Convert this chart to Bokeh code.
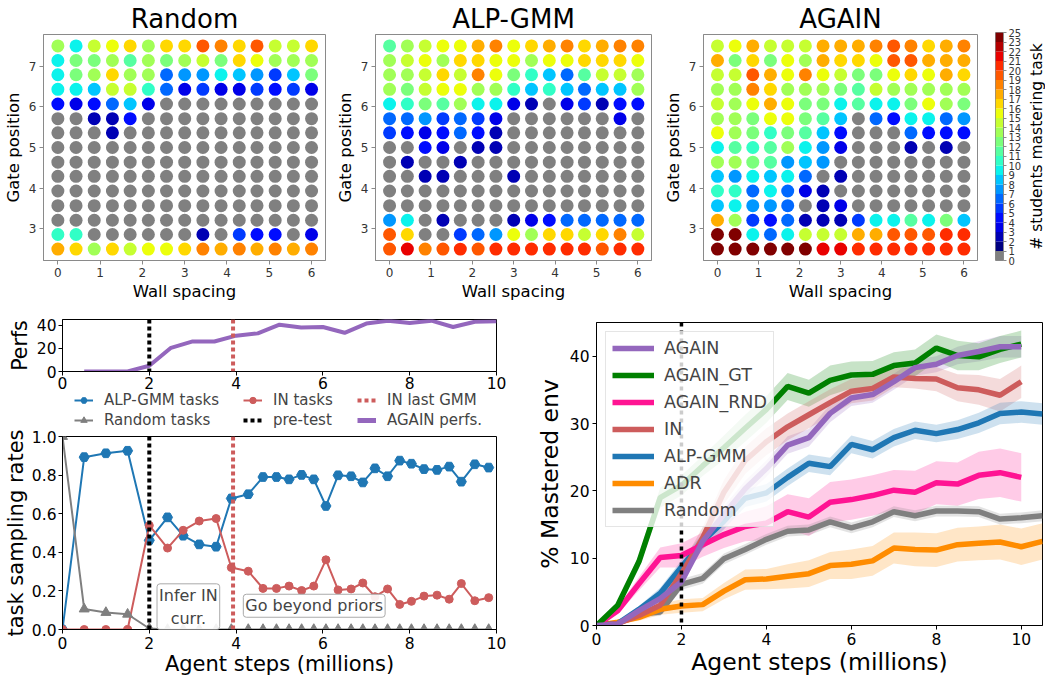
import numpy as np
from bokeh.plotting import figure
from bokeh.models import (FixedTicker, Legend, LegendItem, Span, Label,
                          NumeralTickFormatter, Range1d)
from bokeh.layouts import row, column
from bokeh.embed import file_html
from bokeh.resources import INLINE

FONT = "DejaVu Sans"
NAN = float("nan")

# ---------------- heatmap data (rows: top gate=7.5 -> bottom gate=2.5) ----------------
WALL = [0.0, 0.43, 0.86, 1.29, 1.71, 2.14, 2.57, 3.0, 3.43, 3.86, 4.29, 4.71, 5.14, 5.57, 6.0]
GATE = [7.5, 7.14, 6.79, 6.43, 6.07, 5.71, 5.36, 5.0, 4.64, 4.29, 3.93, 3.57, 3.21, 2.86, 2.5]

RANDOM_GRID = [
    [13, 9, 14, 15, 16, 13, 16, 16, 19, 18, 16, 19, 14, 14, 16],
    [9, 12, 12, 13, 11, 13, 12, 13, 14, 12, 16, 15, 13, 13, 13],
    [9, 12, 13, 16, 13, 13, 6, 7, 7, 9, 8, 7, 5, 8, 12],
    [9, 9, 8, 14, 14, 10, 6, 3, 5, 3, 3, 5, 4, 5, 3],
    [4, 3, 4, 6, 8, 3, 0, 0, 0, 0, 0, 0, 0, 0, 0],
    [0, 0, 2, 2, 4, 0, 0, 0, 0, 0, 0, 0, 0, 0, 0],
    [0, 0, 0, 2, 0, 0, 0, 0, 0, 0, 0, 0, 0, 0, 0],
    [0, 0, 0, 0, 0, 0, 0, 0, 0, 0, 0, 0, 0, 0, 0],
    [0, 0, 0, 0, 0, 0, 0, 0, 0, 0, 0, 0, 0, 0, 0],
    [0, 0, 0, 0, 0, 0, 0, 0, 0, 0, 0, 0, 0, 0, 0],
    [0, 0, 0, 0, 0, 0, 0, 0, 0, 0, 0, 0, 0, 0, 0],
    [0, 0, 0, 0, 0, 0, 0, 0, 0, 0, 0, 0, 0, 0, 0],
    [0, 0, 0, 0, 0, 0, 0, 0, 0, 0, 0, 0, 0, 0, 0],
    [10, 10, 0, 0, 0, 0, 0, 0, 2, 0, 5, 4, 4, 0, 3],
    [17, 16, 13, 16, 14, 15, 15, 16, 18, 17, 18, 17, 18, 17, 18],
]

ALPGMM_GRID = [
    [11, 13, 14, 15, 15, 17, 18, 15, 16, 17, 18, 16, 17, 18, 18],
    [13, 14, 15, 13, 16, 16, 15, 15, 13, 15, 15, 16, 16, 16, 15],
    [13, 13, 14, 16, 14, 18, 15, 12, 10, 8, 6, 11, 14, 14, 13],
    [13, 12, 14, 15, 15, 13, 13, 10, 8, 10, 8, 6, 8, 8, 13],
    [9, 10, 12, 11, 13, 9, 9, 3, 2, 0, 3, 5, 2, 4, 4],
    [6, 6, 7, 5, 6, 5, 3, 0, 0, 0, 0, 0, 0, 3, 0],
    [5, 4, 3, 4, 6, 4, 2, 0, 0, 0, 0, 0, 0, 0, 0],
    [0, 0, 4, 3, 0, 2, 2, 0, 0, 0, 0, 0, 0, 0, 0],
    [0, 2, 0, 0, 2, 0, 0, 0, 0, 0, 0, 0, 0, 0, 0],
    [0, 0, 2, 2, 0, 0, 0, 2, 0, 0, 0, 0, 0, 0, 0],
    [0, 0, 0, 0, 0, 0, 0, 0, 0, 0, 0, 0, 0, 0, 0],
    [0, 0, 0, 0, 0, 0, 0, 0, 0, 0, 0, 0, 0, 0, 0],
    [7, 9, 0, 2, 0, 0, 0, 2, 3, 4, 6, 6, 6, 6, 6],
    [19, 16, 0, 0, 5, 6, 7, 15, 13, 16, 16, 14, 16, 18, 14],
    [19, 21, 18, 19, 20, 19, 20, 20, 20, 20, 20, 20, 19, 20, 20],
]

AGAIN_GRID = [
    [14, 15, 17, 14, 14, 14, 17, 17, 17, 18, 19, 18, 16, 17, 18],
    [17, 12, 16, 12, 15, 13, 17, 16, 16, 15, 19, 19, 17, 17, 17],
    [14, 14, 19, 17, 15, 18, 15, 14, 12, 12, 15, 16, 15, 17, 16],
    [13, 13, 18, 16, 13, 13, 13, 12, 11, 14, 13, 13, 13, 13, 13],
    [14, 13, 15, 17, 15, 12, 12, 9, 11, 9, 9, 12, 15, 13, 12],
    [13, 13, 12, 15, 15, 12, 11, 8, 0, 6, 4, 9, 9, 6, 7],
    [15, 13, 12, 10, 12, 11, 8, 4, 0, 0, 0, 6, 4, 4, 4],
    [9, 11, 10, 11, 13, 9, 7, 3, 0, 0, 0, 2, 0, 2, 0],
    [13, 13, 12, 11, 7, 8, 7, 0, 0, 0, 0, 0, 0, 0, 0],
    [8, 7, 9, 8, 9, 6, 0, 2, 0, 0, 0, 0, 0, 0, 0],
    [10, 10, 6, 9, 6, 3, 2, 0, 0, 0, 0, 0, 0, 0, 0],
    [8, 9, 7, 7, 6, 0, 2, 3, 0, 0, 0, 0, 0, 0, 0],
    [17, 13, 5, 4, 6, 2, 2, 2, 5, 9, 9, 11, 9, 12, 8],
    [25, 25, 9, 6, 9, 14, 14, 14, 17, 17, 19, 19, 19, 20, 20],
    [25, 25, 25, 25, 25, 25, 21, 21, 20, 20, 20, 20, 20, 20, 20],
]

CB_LABELS = [0, 1, 2, 3, 4, 5, 6, 7, 8, 9, 10, 11, 12, 13, 14, 15, 16, 17, 18, 19, 20, 21, 22, 23, 25]

# ---------------- bottom-left data ----------------
PERF_STEPS = [0.5, 1.0, 1.5, 2.0, 2.5, 3.0, 3.5, 4.0, 4.5, 5.0, 5.5, 6.0, 6.5, 7.0, 7.5, 8.0, 8.5, 9.0, 9.5, 10.0]
AGAIN_PERF = [0, 0, 0, 5, 20.5, 26, 26, 31, 33, 40.5, 38, 38.5, 33.5, 41.5, 44, 42, 44, 38.5, 43, 43.5]

TASK_STEPS = [0.0, 0.5, 1.0, 1.5, 2.0, 2.42, 2.78, 3.15, 3.54, 3.89, 4.28, 4.62, 4.93, 5.22, 5.51,
              5.79, 6.07, 6.35, 6.65, 6.92, 7.2, 7.49, 7.77, 8.04, 8.33, 8.63, 8.91, 9.19, 9.5, 9.82]
ALP_TASKS = [0.0, 0.893, 0.913, 0.926, 0.462, 0.581, 0.486, 0.441, 0.429, 0.679, 0.701, 0.790, 0.790,
             0.778, 0.801, 0.778, 0.640, 0.799, 0.794, 0.762, 0.835, 0.794, 0.875, 0.859, 0.831,
             0.827, 0.844, 0.766, 0.856, 0.839]
IN_TASKS = [0.0, 0.0, 0.0, 0.0, 0.539, 0.422, 0.514, 0.562, 0.575, 0.321, 0.302, 0.213, 0.213, 0.225,
            0.202, 0.225, 0.361, 0.205, 0.210, 0.241, 0.170, 0.210, 0.130, 0.146, 0.173, 0.178,
            0.157, 0.238, 0.149, 0.165]
RANDOM_TASKS = [1.0, 0.106, 0.088, 0.079, 0.005, 0, 0, 0, 0, 0, 0, 0, 0, 0, 0,
                0, 0, 0, 0, 0, 0, 0, 0, 0, 0, 0, 0, 0, 0, 0]
PRETEST_X = 2.0
IN_LAST_GMM_X = 3.93

# ---------------- bottom-right data ----------------
STEPS = [0.0, 0.5, 1.0, 1.5, 2.0, 2.5, 3.0, 3.5, 4.0, 4.5, 5.0, 5.5, 6.0, 6.5, 7.0, 7.5, 8.0, 8.5, 9.0, 9.5, 10.0]
STEPS_EXT = STEPS + [10.5]

AGAIN_M = [0, 0.2, 2.2, 4.0, 6.5, 12.5, 16.5, 20.3, 23.3, 26.8, 27.9, 31.5, 33.8, 34.3, 36.2, 38.3, 38.8, 40.1, 40.7, 41.4, 41.4]
AGAIN_S = [0, 0.2, 0.4, 0.6, 0.8, 1.0, 1.2, 1.2, 1.2, 1.3, 1.3, 1.3, 1.2, 1.2, 1.2, 1.2, 1.2, 1.3, 1.5, 1.6, 1.6]
GT_M = [0, 3.0, 9.5, 19.0, 20.8, 23.7, 26.4, 29.3, 32.1, 35.5, 34.5, 36.4, 37.2, 37.3, 38.6, 39.0, 41.2, 40.1, 39.9, 41.0, 41.8]
GT_S = [0, 0.5, 1.0, 1.5, 1.5, 1.5, 1.8, 2.0, 2.0, 2.0, 2.0, 2.2, 2.0, 2.0, 2.0, 2.0, 2.0, 2.2, 2.0, 2.0, 2.0]
RND_M = [0, 2.2, 6.2, 10.1, 10.4, 12.0, 13.5, 14.7, 15.2, 16.9, 16.1, 18.3, 18.7, 19.3, 20.1, 19.8, 21.2, 21.0, 22.3, 22.7, 22.0]
RND_S = [0, 0.5, 1.0, 1.5, 1.8, 1.8, 2.0, 2.2, 2.5, 2.6, 2.8, 3.0, 3.0, 3.0, 3.0, 3.2, 3.2, 3.2, 3.5, 3.6, 3.6]
IN_M = [0, 0.3, 1.5, 3.0, 7.7, 13.0, 19.8, 24.5, 27.3, 29.5, 31.3, 33.1, 34.8, 35.2, 36.9, 36.7, 36.6, 35.3, 35.0, 34.2, 36.2]
IN_S = [0, 0.3, 0.6, 1.0, 1.3, 1.6, 1.8, 2.0, 2.0, 2.0, 2.0, 2.0, 1.8, 1.8, 1.5, 1.5, 1.8, 2.0, 2.2, 2.4, 2.4]
ALP_M = [0, 0.3, 2.4, 4.8, 8.7, 12.5, 15.5, 18.9, 19.7, 22.0, 24.1, 23.6, 26.9, 26.1, 27.9, 29.0, 28.5, 29.1, 30.1, 31.5, 31.7, 31.4]
ALP_S = [0, 0.3, 0.5, 0.8, 1.0, 1.2, 1.2, 1.3, 1.3, 1.3, 1.3, 1.3, 1.3, 1.3, 1.3, 1.3, 1.3, 1.4, 1.5, 1.6, 1.6, 1.6]
ADR_M = [0, 0.5, 1.2, 2.4, 2.9, 3.1, 5.1, 6.8, 6.9, 7.3, 7.7, 8.9, 9.1, 9.6, 11.5, 11.3, 11.2, 12.0, 12.2, 12.4, 11.7, 12.5]
ADR_S = [0, 0.3, 0.5, 0.8, 1.0, 1.0, 1.2, 1.5, 1.5, 1.8, 2.0, 2.0, 2.2, 2.2, 2.3, 2.5, 2.5, 2.5, 2.5, 2.6, 2.7, 2.7]
RANDOM_M = [0, 0.3, 1.7, 2.0, 6.1, 7.0, 9.9, 11.3, 12.8, 14.0, 14.2, 15.4, 14.5, 15.4, 16.9, 16.3, 17.0, 17.0, 16.9, 15.8, 16.0, 16.3]
RANDOM_S = [0, 0.2, 0.4, 0.6, 0.8, 0.8, 0.8, 0.8, 0.8, 0.8, 0.8, 0.8, 0.8, 0.8, 0.8, 0.8, 0.8, 0.8, 0.8, 0.8, 0.8, 0.8]

PURPLE = "#9467bd"
GREEN = "#008000"
PINK = "#ff1493"
INRED = "#cd5c5c"
BLUE = "#1f77b4"
ORANGE = "#ff8c00"
GRAY = "#808080"
TGRAY = "#7f7f7f"


# ---------------- colormap ----------------
def jet(t):
    r = np.interp(t, [0, 0.35, 0.66, 0.89, 1], [0, 0, 1, 1, 0.5])
    g = np.interp(t, [0, 0.125, 0.375, 0.64, 0.91, 1], [0, 0, 1, 1, 0, 0])
    b = np.interp(t, [0, 0.11, 0.34, 0.65, 1], [0.5, 1, 1, 0, 0])
    return "#%02x%02x%02x" % (int(round(r * 255)), int(round(g * 255)), int(round(b * 255)))


BAND_COLORS = ["#808080"] + [jet(k / 22.0) for k in range(23)]


def value_color(v):
    return BAND_COLORS[0 if v == 0 else min(v, 23)]


# ---------------- layout helpers ----------------
SX = 1045 / 1061
SY = 678 / 694


def sx(v):
    return int(round(v * SX))


def sy(v):
    return int(round(v * SY))


def base_fig(width, height, left, right, top, bottom, **kw):
    p = figure(width=width, height=height, min_border_left=left, min_border_right=right,
               min_border_top=top, min_border_bottom=bottom,
               output_backend="svg", toolbar_location=None, **kw)
    p.frame_align = False
    p.grid.visible = False
    p.background_fill_color = "white"
    p.border_fill_color = "white"
    return p


def make_fig(box, frame, **kw):
    x0, x1, y0, y1 = box
    fx0, fx1, fy0, fy1 = frame
    return base_fig(sx(x1) - sx(x0), sy(y1) - sy(y0), sx(fx0) - sx(x0), sx(x1) - sx(fx1),
                    sy(fy0) - sy(y0), sy(y1) - sy(fy1), **kw)


def style(p, tick_px, label_px, line_color="black", text_color="black"):
    for ax in p.axis:
        ax.major_label_text_font = FONT
        ax.major_label_text_font_size = "%.1fpx" % tick_px
        ax.major_label_text_color = text_color
        ax.axis_label_text_font = FONT
        ax.axis_label_text_font_size = "%.1fpx" % label_px
        ax.axis_label_text_font_style = "normal"
        ax.axis_label_text_color = "black"
        ax.minor_tick_line_color = None
        ax.major_tick_out = 4
        ax.major_tick_in = 0
        ax.major_label_standoff = 3
        ax.axis_label_standoff = 3
        ax.axis_line_color = line_color
        ax.major_tick_line_color = line_color
    p.outline_line_color = line_color
    p.outline_line_alpha = 1.0


def heatmap(box, frame, title, grid):
    p = make_fig(box, frame, x_range=Range1d(-0.34, 6.33), y_range=Range1d(2.22, 7.78), title=title)
    xs, ys, cs = [], [], []
    for r, vals in enumerate(grid):
        for c, v in enumerate(vals):
            xs.append(WALL[c])
            ys.append(GATE[r])
            cs.append(value_color(v))
    p.scatter(x=xs, y=ys, size=13, fill_color=cs, line_color=None)
    p.xaxis.ticker = FixedTicker(ticks=[0, 1, 2, 3, 4, 5, 6])
    p.yaxis.ticker = FixedTicker(ticks=[3, 4, 5, 6, 7])
    p.xaxis.axis_label = "Wall spacing"
    p.yaxis.axis_label = "Gate position"
    style(p, 12, 16.5, line_color="#8a8a8a", text_color="#333333")
    p.xaxis.axis_label_standoff = 2
    p.title.text_font = FONT
    p.title.text_font_size = "26px"
    p.title.text_font_style = "normal"
    p.title.text_color = "black"
    p.title.align = "center"
    p.title.standoff = 2
    return p


h1 = heatmap((0, 337, 0, 318), (43, 330, 33, 266), "Random", RANDOM_GRID)
h2 = heatmap((337, 670, 0, 318), (375, 661, 33, 266), "ALP-GMM", ALPGMM_GRID)
h3 = heatmap((670, 998, 0, 318), (706, 992, 33, 266), "AGAIN", AGAIN_GRID)

# colorbar as its own small figure
cb = make_fig((998, 1040, 0, 318), (1010, 1023, 33, 266), x_range=Range1d(0, 1),
              y_range=Range1d(0, len(BAND_COLORS)), y_axis_location="right", x_axis_location=None)
band_idx = list(range(len(BAND_COLORS)))
cb.quad(left=0, right=1, bottom=band_idx, top=[i + 1 for i in band_idx], fill_color=BAND_COLORS, line_color=None)
cb.yaxis.ticker = FixedTicker(ticks=list(range(len(CB_LABELS))))
cb.yaxis.major_label_overrides = {i: str(b) for i, b in enumerate(CB_LABELS)}
style(cb, 10, 15.5, line_color="#8a8a8a", text_color="#333333")
cb.yaxis.major_tick_out = 3
cb.yaxis.major_label_standoff = 2

# colorbar title: left axis label of a 1-px-wide figure (reads bottom-to-top)
cbl = make_fig((1040, 1061, 0, 318), (1060, 1061, 33, 266), x_range=Range1d(0, 1),
               y_range=Range1d(0, 1), x_axis_location=None)
cbl.yaxis.ticker = FixedTicker(ticks=[])
cbl.yaxis.axis_label = "# students mastering task"
cbl.yaxis.axis_line_color = None
cbl.yaxis.axis_label_text_font = FONT
cbl.yaxis.axis_label_text_font_size = "15.5px"
cbl.yaxis.axis_label_text_font_style = "normal"
cbl.yaxis.axis_label_text_color = "black"
cbl.yaxis.axis_label_standoff = 0
cbl.yaxis.major_label_standoff = 0
cbl.yaxis.major_tick_out = 0
cbl.outline_line_color = None

# ---------------- bottom-left column: explicit pixel heights ----------------
TOP_H = sy(318)
BOT_H = 678 - TOP_H
LEFT_W = sx(540)
PF_H = 80
LG_H = 38
MP_H = BOT_H - PF_H - LG_H
FR_L = sx(61) + 2
FR_R = LEFT_W - sx(504)

# perfs
pf = base_fig(LEFT_W, PF_H, FR_L, FR_R, sy(327) - TOP_H, 20,
              x_range=Range1d(0, 10), y_range=Range1d(0, 45))
pf.line(PERF_STEPS, AGAIN_PERF, line_color=PURPLE, line_width=4)
pf.add_layout(Span(location=PRETEST_X, dimension="height", line_color="black", line_width=4, line_dash="4 3"))
pf.add_layout(Span(location=IN_LAST_GMM_X, dimension="height", line_color=INRED, line_width=4, line_dash="4 3"))
pf.xaxis.ticker = FixedTicker(ticks=[0, 2, 4, 6, 8, 10])
pf.yaxis.ticker = FixedTicker(ticks=[0, 20, 40])
pf.yaxis.axis_label = "Perfs"
style(pf, 15.5, 20.5)
pf.yaxis.axis_label_standoff = 2
pf.yaxis.major_label_standoff = 2
pf.xaxis.major_label_standoff = 1

# legend strip
lgf = base_fig(LEFT_W, LG_H, 0, 0, 0, 0, x_range=Range1d(0, 1), y_range=Range1d(0, 1),
               x_axis_location=None, y_axis_location=None)
lgf.outline_line_color = None
d_alp_l = lgf.line([NAN], [NAN], line_color=BLUE, line_width=2)
d_alp_s = lgf.scatter([NAN], [NAN], marker="hex", size=10, fill_color=BLUE, line_color=BLUE)
d_rnd_l = lgf.line([NAN], [NAN], line_color=TGRAY, line_width=2)
d_rnd_s = lgf.scatter([NAN], [NAN], marker="triangle", size=10, fill_color=TGRAY, line_color=TGRAY)
d_in_l = lgf.line([NAN], [NAN], line_color=INRED, line_width=2)
d_in_s = lgf.scatter([NAN], [NAN], marker="circle", size=8, fill_color=INRED, line_color=INRED)
d_pre = lgf.line([NAN], [NAN], line_color="black", line_width=4, line_dash="4 3")
d_gmm = lgf.line([NAN], [NAN], line_color=INRED, line_width=4, line_dash="4 3")
d_perf = lgf.line([NAN], [NAN], line_color=PURPLE, line_width=5)

for xoff, items in [(75, [("ALP-GMM tasks", [d_alp_l, d_alp_s]), ("Random tasks", [d_rnd_l, d_rnd_s])]),
                    (247, [("IN tasks", [d_in_l, d_in_s]), ("pre-test", [d_pre])]),
                    (362, [("IN last GMM", [d_gmm]), ("AGAIN perfs.", [d_perf])])]:
    lg = Legend(items=[LegendItem(label=t, renderers=r) for t, r in items],
                location=(sx(xoff), 0), orientation="vertical")
    lg.border_line_color = None
    lg.background_fill_alpha = 0
    lg.padding = 0
    lg.margin = 0
    lg.spacing = 2
    lg.glyph_width = 19
    lg.glyph_height = 16
    lg.label_height = 16
    lg.label_standoff = 11
    lg.label_text_font = FONT
    lg.label_text_font_size = "15px"
    lg.label_text_baseline = "middle"
    lgf.add_layout(lg)

# task sampling
mp = base_fig(LEFT_W, MP_H, FR_L, FR_R, 7, 678 - sy(651),
              x_range=Range1d(0, 10), y_range=Range1d(0, 1))
mp.add_layout(Span(location=PRETEST_X, dimension="height", line_color="black", line_width=4, line_dash="4 3"))
mp.add_layout(Span(location=IN_LAST_GMM_X, dimension="height", line_color=INRED, line_width=4, line_dash="4 3"))
mp.line(TASK_STEPS, ALP_TASKS, line_color=BLUE, line_width=2)
mp.scatter(TASK_STEPS, ALP_TASKS, marker="hex", size=10, fill_color=BLUE, line_color=BLUE)
mp.line(TASK_STEPS, IN_TASKS, line_color=INRED, line_width=2)
mp.scatter(TASK_STEPS, IN_TASKS, marker="circle", size=8, fill_color=INRED, line_color=INRED)
mp.line(TASK_STEPS, RANDOM_TASKS, line_color=TGRAY, line_width=2)
mp.scatter(TASK_STEPS, RANDOM_TASKS, marker="triangle", size=10, fill_color=TGRAY, line_color=TGRAY)

mp.xaxis.ticker = FixedTicker(ticks=[0, 2, 4, 6, 8, 10])
mp.yaxis.ticker = FixedTicker(ticks=[0, 0.2, 0.4, 0.6, 0.8, 1.0])
mp.yaxis.formatter = NumeralTickFormatter(format="0.0")
mp.xaxis.axis_label = "Agent steps (millions)"
mp.yaxis.axis_label = "task sampling rates"
style(mp, 15.5, 21)
mp.xaxis.axis_label_standoff = 0
mp.yaxis.axis_label_standoff = 1
mp.yaxis.major_label_standoff = 2

for txt, xc, yc in [("Infer IN\ncurr.", 2.9, 0.118), ("Go beyond priors", 5.8, 0.123)]:
    mp.add_layout(Label(x=xc, y=yc, text=txt, text_align="center", text_baseline="middle",
                        text_font=FONT, text_font_size="16px", background_fill_color="white",
                        background_fill_alpha=0.9, border_line_color="#aaaaaa", border_line_width=1,
                        padding=2, border_radius=3))

# ---------------- bottom-right ----------------
rp = make_fig((540, 1061, 318, 694), (601, 1058, 330, 643), x_range=Range1d(0, 10.5), y_range=Range1d(0, 45))
series = [
    ("AGAIN", STEPS, AGAIN_M, AGAIN_S, PURPLE),
    ("AGAIN_GT", STEPS, GT_M, GT_S, GREEN),
    ("AGAIN_RND", STEPS, RND_M, RND_S, PINK),
    ("IN", STEPS, IN_M, IN_S, INRED),
    ("ALP-GMM", STEPS_EXT, ALP_M, ALP_S, BLUE),
    ("ADR", STEPS_EXT, ADR_M, ADR_S, ORANGE),
    ("Random", STEPS_EXT, RANDOM_M, RANDOM_S, GRAY),
]
for name, xs, m, s, c in series:
    m_ = np.array(m, dtype=float)
    s_ = np.array(s, dtype=float)
    rp.varea(x=xs, y1=m_ - s_, y2=m_ + s_, fill_color=c, fill_alpha=0.22)
rp.add_layout(Span(location=PRETEST_X, dimension="height", line_color="black", line_width=3.5, line_dash="4 4"))
line_r = {}
for name, xs, m, s, c in reversed(series):
    line_r[name] = rp.line(xs, m, line_color=c, line_width=5.5)
rleg = Legend(items=[LegendItem(label=n, renderers=[line_r[n]]) for n, _, _, _, _ in series],
              location="top_left")
rleg.border_line_color = "#cccccc"
rleg.background_fill_alpha = 0.8
rleg.margin = 9
rleg.padding = 6
rleg.spacing = 7
rleg.glyph_width = 42
rleg.glyph_height = 20
rleg.label_height = 20
rleg.label_standoff = 10
rleg.label_text_font = FONT
rleg.label_text_font_size = "17.5px"
rp.add_layout(rleg)
rp.xaxis.ticker = FixedTicker(ticks=[0, 2, 4, 6, 8, 10])
rp.yaxis.ticker = FixedTicker(ticks=[0, 10, 20, 30, 40])
rp.xaxis.axis_label = "Agent steps (millions)"
rp.yaxis.axis_label = "% Mastered env"
style(rp, 15.5, 23.5)
rp.xaxis.axis_label_standoff = 0

layout = column(row(h1, h2, h3, cb, cbl), row(column(pf, lgf, mp), rp))
open("out.html", "w").write(file_html(layout, INLINE))
